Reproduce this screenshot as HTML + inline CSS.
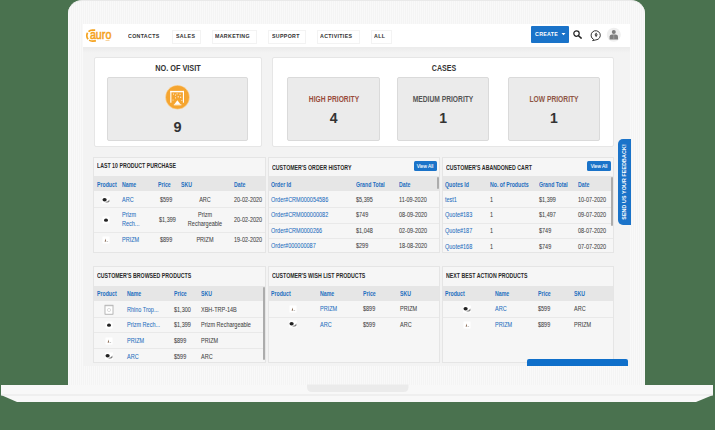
<!DOCTYPE html><html><head><meta charset="utf-8"><style>
html,body{margin:0;padding:0;}
body{width:715px;height:430px;position:relative;overflow:hidden;background:#4a724f;font-family:"Liberation Sans",sans-serif;}
.b{position:absolute;box-sizing:border-box;}
.t{position:absolute;white-space:nowrap;}
</style></head><body>
<div class="b" style="left:68px;top:0px;width:577px;height:385px;background:#f7f7f7;border-radius:14px 14px 0 0;border-top:1px solid #e9e9e9;background-image:repeating-linear-gradient(90deg,#f9f9f9 0 1px,#f4f4f4 1px 2px);"></div>
<div class="b" style="left:83px;top:24px;width:547px;height:342px;background:#f3f3f3;"></div>
<div class="b" style="left:83px;top:24px;width:547px;height:23px;background:#fff;"></div>
<div class="b" style="left:83px;top:47px;width:547px;height:6px;background:linear-gradient(#ebebeb,#f3f3f3);"></div>
<svg class="b" style="left:0;top:384px" width="715" height="20" viewBox="0 0 715 20"><path d="M1 1 H713 V11 L696 18 H17 L1 11 Z" fill="#f8f8f8"/><rect x="1" y="10.5" width="712" height="1" fill="#e6e6e6"/><path d="M307 0.5 H408.5 V3 Q408.5 8 403.5 8 H312 Q307 8 307 3 Z" fill="#ebebeb"/></svg>
<svg class="b" style="left:82px;top:24px" width="36" height="22" viewBox="0 0 36 22"><path d="M13.2 6.1 L10.3 6.15 A5.5 5.5 0 0 0 10.3 17.15 L13.9 16.9" fill="none" stroke="#f5a31f" stroke-width="1.7" stroke-dasharray="7 1.3 6.8 1.3 20"/><text x="7.9" y="15.1" font-family="Liberation Sans" font-size="13.5" fill="#f5a31f" stroke="#f5a31f" stroke-width="0.6" textLength="21.5" lengthAdjust="spacingAndGlyphs">auro</text><rect x="23.5" y="16.3" width="4" height="0.6" fill="#f5b860"/></svg>
<div class="t" style="left:128.2px;top:32.4px;font-size:6.2px;line-height:8px;color:#333;font-weight:bold;transform:scaleX(0.85);transform-origin:left center;letter-spacing:0.4px;">CONTACTS</div>
<div class="b" style="left:171.9px;top:29.5px;width:29.400000000000006px;height:14px;border:1px solid #f3f3f3;"></div>
<div class="t" style="left:175.8px;top:32.4px;font-size:6.2px;line-height:8px;color:#333;font-weight:bold;transform:scaleX(0.85);transform-origin:left center;letter-spacing:0.4px;">SALES</div>
<div class="b" style="left:212px;top:29.5px;width:45px;height:14px;border:1px solid #f3f3f3;"></div>
<div class="t" style="left:215.4px;top:32.4px;font-size:6.2px;line-height:8px;color:#333;font-weight:bold;transform:scaleX(0.85);transform-origin:left center;letter-spacing:0.4px;">MARKETING</div>
<div class="b" style="left:267.7px;top:29.5px;width:38.60000000000002px;height:14px;border:1px solid #f3f3f3;"></div>
<div class="t" style="left:271.6px;top:32.4px;font-size:6.2px;line-height:8px;color:#333;font-weight:bold;transform:scaleX(0.85);transform-origin:left center;letter-spacing:0.4px;">SUPPORT</div>
<div class="b" style="left:317.3px;top:29.5px;width:42.89999999999998px;height:14px;border:1px solid #f3f3f3;"></div>
<div class="t" style="left:320.2px;top:32.4px;font-size:6.2px;line-height:8px;color:#333;font-weight:bold;transform:scaleX(0.85);transform-origin:left center;letter-spacing:0.4px;">ACTIVITIES</div>
<div class="b" style="left:370.5px;top:29.5px;width:21.5px;height:14px;border:1px solid #f3f3f3;"></div>
<div class="t" style="left:374.0px;top:32.4px;font-size:6.2px;line-height:8px;color:#333;font-weight:bold;transform:scaleX(0.85);transform-origin:left center;letter-spacing:0.4px;">ALL</div>
<div class="b" style="left:531px;top:25.5px;width:38px;height:17px;background:#1a73c9;border-radius:1px;"></div>
<div class="t" style="left:535.0px;top:30.0px;font-size:5.3px;line-height:8px;color:#fff;font-weight:bold;transform-origin:left center;letter-spacing:0.3px;">CREATE</div>
<svg class="b" style="left:561px;top:32px" width="5" height="4"><path d="M0.5 1 H4.5 L2.5 3.2 Z" fill="#fff"/></svg>
<svg class="b" style="left:571px;top:28px" width="12" height="12" viewBox="0 0 12 12"><circle cx="5.5" cy="5.6" r="2.7" fill="none" stroke="#222" stroke-width="1.2"/><path d="M7.5 7.7 L10.2 10.1" stroke="#222" stroke-width="1.5" stroke-linecap="round"/></svg>
<svg class="b" style="left:589px;top:27.5px" width="14" height="14" viewBox="0 0 14 14"><path d="M4.6 11.4 A4.6 4.6 0 1 1 6.9 11.9 L3.6 12.6 Z" fill="none" stroke="#2a2a2a" stroke-width="0.95" stroke-linejoin="round"/><path d="M7.1 4.6 L8.6 6.8 L7.1 9.2 L5.6 6.8 Z" fill="#333"/><circle cx="7.1" cy="6.7" r="0.5" fill="#fff"/></svg>
<svg class="b" style="left:606px;top:27px" width="16" height="16" viewBox="0 0 16 16"><circle cx="7.8" cy="7.8" r="7" fill="#efefef"/><circle cx="7.8" cy="4.9" r="2" fill="#7d7d7d"/><path d="M3.6 12.4 V9.6 Q3.6 7.6 6 7.6 H9.6 Q12 7.6 12 9.6 V12.4 Z" fill="#7d7d7d"/><path d="M7.8 7.8 V12.2" stroke="#bdbdbd" stroke-width="0.5"/></svg>
<div class="b" style="left:94px;top:57px;width:167.5px;height:90px;background:#fff;border:1px solid #e6e6e6;border-radius:2px;"></div>
<div class="t" style="left:77.6px;width:200px;text-align:center;top:63.4px;font-size:8.6px;line-height:10px;color:#333;font-weight:bold;transform:scaleX(0.85);transform-origin:center;">NO. OF VISIT</div>
<div class="b" style="left:107px;top:76.5px;width:141px;height:64.5px;background:#ebebeb;border:1px solid #dadada;border-radius:2px;"></div>
<svg class="b" style="left:164px;top:83.5px" width="27" height="27" viewBox="0 0 27 27"><circle cx="13.5" cy="13.2" r="12" fill="#f5a530" stroke="#fbe3c0" stroke-width="0.5"/><rect x="6.3" y="6.9" width="13.7" height="1.4" fill="#fff"/><rect x="6.3" y="6.9" width="1.1" height="11.8" fill="#fff"/><rect x="18.9" y="6.9" width="1.1" height="11.8" fill="#fff"/><path d="M13.4 16.3 L16.6 20.6 H10.2 Z" fill="#fff"/><rect x="9.8" y="20.4" width="7.6" height="0.9" fill="#fff"/><g fill="#fff" opacity="0.85"><rect x="9" y="9.6" width="1" height="1"/><rect x="11" y="10.6" width="1" height="1"/><rect x="12.6" y="9.4" width="1" height="1"/><rect x="15.5" y="9.8" width="1.1" height="1"/><rect x="13.6" y="12.2" width="1.2" height="1.2"/><rect x="16.2" y="12.6" width="1" height="1.4"/><rect x="11" y="13.4" width="1" height="1"/><rect x="8.6" y="15.6" width="0.9" height="0.9"/><rect x="17.4" y="16" width="0.9" height="0.9"/></g></svg>
<div class="t" style="left:77.5px;width:200px;text-align:center;top:118.7px;font-size:14.5px;line-height:16px;color:#333;font-weight:bold;transform-origin:center;">9</div>
<div class="b" style="left:272px;top:57px;width:342px;height:90px;background:#fff;border:1px solid #e6e6e6;border-radius:2px;"></div>
<div class="t" style="left:343.8px;width:200px;text-align:center;top:63.4px;font-size:8.6px;line-height:10px;color:#333;font-weight:bold;transform:scaleX(0.82);transform-origin:center;">CASES</div>
<div class="b" style="left:287px;top:76.5px;width:93.30000000000001px;height:64.5px;background:#ebebeb;border:1px solid #dadada;border-radius:2px;"></div>
<div class="t" style="left:233.6px;width:200px;text-align:center;top:94.2px;font-size:8.4px;line-height:10px;color:#9a4b3b;font-weight:bold;transform:scaleX(0.8);transform-origin:center;">HIGH PRIORITY</div>
<div class="t" style="left:233.6px;width:200px;text-align:center;top:110.3px;font-size:14px;line-height:16px;color:#333;font-weight:bold;transform-origin:center;">4</div>
<div class="b" style="left:397px;top:76.5px;width:92.30000000000001px;height:64.5px;background:#ebebeb;border:1px solid #dadada;border-radius:2px;"></div>
<div class="t" style="left:343.1px;width:200px;text-align:center;top:94.2px;font-size:8.4px;line-height:10px;color:#555;font-weight:bold;transform:scaleX(0.8);transform-origin:center;">MEDIUM PRIORITY</div>
<div class="t" style="left:343.1px;width:200px;text-align:center;top:110.3px;font-size:14px;line-height:16px;color:#333;font-weight:bold;transform-origin:center;">1</div>
<div class="b" style="left:507.5px;top:76.5px;width:92.5px;height:64.5px;background:#ebebeb;border:1px solid #dadada;border-radius:2px;"></div>
<div class="t" style="left:453.8px;width:200px;text-align:center;top:94.2px;font-size:8.4px;line-height:10px;color:#8f5645;font-weight:bold;transform:scaleX(0.8);transform-origin:center;">LOW PRIORITY</div>
<div class="t" style="left:453.8px;width:200px;text-align:center;top:110.3px;font-size:14px;line-height:16px;color:#333;font-weight:bold;transform-origin:center;">1</div>
<div class="b" style="left:618px;top:139px;width:12.5px;height:86px;background:#1a73c9;border-radius:5px 0 0 5px;"></div>
<div class="t" style="left:624.3px;top:182px;transform:translate(-50%,-50%) rotate(-90deg);font-size:5.3px;line-height:7px;color:#fff;font-weight:bold;letter-spacing:0.12px;">SEND US YOUR FEEDBACK!</div>
<div class="b" style="left:93px;top:157px;width:173px;height:96px;background:#f6f6f6;border:1px solid #e5e5e5;"></div>
<div class="t" style="left:97.0px;top:162.3px;font-size:6.8px;line-height:8px;color:#2a2a2a;font-weight:bold;transform:scaleX(0.77);transform-origin:left center;">LAST 10 PRODUCT PURCHASE</div>
<div class="b" style="left:94px;top:175.5px;width:171px;height:15.699999999999989px;background:#e6e6e6;"></div>
<div class="t" style="left:97.0px;top:181.2px;font-size:6.5px;line-height:8px;color:#1f6fc0;font-weight:bold;transform:scaleX(0.8);transform-origin:left center;">Product</div>
<div class="t" style="left:122.2px;top:181.2px;font-size:6.5px;line-height:8px;color:#1f6fc0;font-weight:bold;transform:scaleX(0.8);transform-origin:left center;">Name</div>
<div class="t" style="left:158.0px;top:181.2px;font-size:6.5px;line-height:8px;color:#1f6fc0;font-weight:bold;transform:scaleX(0.8);transform-origin:left center;">Price</div>
<div class="t" style="left:180.7px;top:181.2px;font-size:6.5px;line-height:8px;color:#1f6fc0;font-weight:bold;transform:scaleX(0.8);transform-origin:left center;">SKU</div>
<div class="t" style="left:234.3px;top:181.2px;font-size:6.5px;line-height:8px;color:#1f6fc0;font-weight:bold;transform:scaleX(0.8);transform-origin:left center;">Date</div>
<div class="b" style="left:94px;top:206.5px;width:171px;height:1px;background:#e9e9e9;"></div>
<div class="b" style="left:94px;top:231.5px;width:171px;height:1px;background:#e9e9e9;"></div>
<svg class="b" style="left:101px;top:195.5px" width="10" height="8" viewBox="0 0 10 8"><rect x="1" y="0.5" width="8" height="7" fill="#fff"/><ellipse cx="3.6" cy="3.8" rx="2.1" ry="1.7" fill="#222"/><path d="M4.6 5.8 Q7 6.2 8.3 3.6 L8.5 5.4 Q7 6.9 4.6 6.5 Z" fill="#777"/></svg>
<div class="t" style="left:122.2px;top:195.8px;font-size:6.8px;line-height:8px;color:#1f6fc0;font-weight:normal;-webkit-text-stroke:0.06px #1f6fc0;transform:scaleX(0.81);transform-origin:left center;">ARC</div>
<div class="t" style="left:160.2px;top:195.8px;font-size:6.8px;line-height:8px;color:#444;font-weight:normal;-webkit-text-stroke:0.06px #444;transform:scaleX(0.81);transform-origin:left center;">$599</div>
<div class="t" style="left:104.6px;width:200px;text-align:center;top:195.8px;font-size:6.8px;line-height:8px;color:#444;font-weight:normal;-webkit-text-stroke:0.06px #444;transform:scaleX(0.81);transform-origin:center;">ARC</div>
<div class="t" style="left:234.3px;top:195.8px;font-size:6.8px;line-height:8px;color:#444;font-weight:normal;-webkit-text-stroke:0.06px #444;transform:scaleX(0.81);transform-origin:left center;">20-02-2020</div>
<svg class="b" style="left:102.4px;top:216px" width="8" height="8"><rect x="0.5" y="0.5" width="7" height="7" fill="#fff"/><ellipse cx="4" cy="4.2" rx="2" ry="1.6" fill="#222"/></svg>
<div class="t" style="left:122.2px;top:211.3px;font-size:6.8px;line-height:8px;color:#1f6fc0;font-weight:normal;-webkit-text-stroke:0.06px #1f6fc0;transform:scaleX(0.81);transform-origin:left center;">Prizm</div>
<div class="t" style="left:122.2px;top:220.1px;font-size:6.8px;line-height:8px;color:#1f6fc0;font-weight:normal;-webkit-text-stroke:0.06px #1f6fc0;transform:scaleX(0.81);transform-origin:left center;">Rech...</div>
<div class="t" style="left:158.5px;top:215.6px;font-size:6.8px;line-height:8px;color:#444;font-weight:normal;-webkit-text-stroke:0.06px #444;transform:scaleX(0.81);transform-origin:left center;">$1,399</div>
<div class="t" style="left:104.6px;width:200px;text-align:center;top:211.3px;font-size:6.8px;line-height:8px;color:#444;font-weight:normal;-webkit-text-stroke:0.06px #444;transform:scaleX(0.81);transform-origin:center;">Prizm</div>
<div class="t" style="left:104.6px;width:200px;text-align:center;top:220.1px;font-size:6.8px;line-height:8px;color:#444;font-weight:normal;-webkit-text-stroke:0.06px #444;transform:scaleX(0.81);transform-origin:center;">Rechargeable</div>
<div class="t" style="left:234.3px;top:215.6px;font-size:6.8px;line-height:8px;color:#444;font-weight:normal;-webkit-text-stroke:0.06px #444;transform:scaleX(0.81);transform-origin:left center;">20-02-2020</div>
<svg class="b" style="left:102px;top:235.5px" width="8" height="8"><rect x="0.5" y="0.5" width="7" height="7" fill="#fff"/><path d="M3.6 2.4 L4.2 5.6 L2.6 5.8 Z" fill="#8a6b55"/><rect x="4.6" y="5.1" width="1.5" height="0.8" fill="#bbb"/></svg>
<div class="t" style="left:122.2px;top:235.6px;font-size:6.8px;line-height:8px;color:#1f6fc0;font-weight:normal;-webkit-text-stroke:0.06px #1f6fc0;transform:scaleX(0.81);transform-origin:left center;">PRIZM</div>
<div class="t" style="left:160.2px;top:235.6px;font-size:6.8px;line-height:8px;color:#444;font-weight:normal;-webkit-text-stroke:0.06px #444;transform:scaleX(0.81);transform-origin:left center;">$899</div>
<div class="t" style="left:104.6px;width:200px;text-align:center;top:235.6px;font-size:6.8px;line-height:8px;color:#444;font-weight:normal;-webkit-text-stroke:0.06px #444;transform:scaleX(0.81);transform-origin:center;">PRIZM</div>
<div class="t" style="left:234.3px;top:235.6px;font-size:6.8px;line-height:8px;color:#444;font-weight:normal;-webkit-text-stroke:0.06px #444;transform:scaleX(0.81);transform-origin:left center;">19-02-2020</div>
<div class="b" style="left:268px;top:157px;width:172px;height:96px;background:#f6f6f6;border:1px solid #e5e5e5;"></div>
<div class="t" style="left:272.0px;top:163.6px;font-size:6.8px;line-height:8px;color:#2a2a2a;font-weight:bold;transform:scaleX(0.77);transform-origin:left center;">CUSTOMER'S ORDER HISTORY</div>
<div class="b" style="left:269px;top:175.5px;width:170px;height:15.699999999999989px;background:#e6e6e6;"></div>
<div class="t" style="left:271.3px;top:181.2px;font-size:6.5px;line-height:8px;color:#1f6fc0;font-weight:bold;transform:scaleX(0.8);transform-origin:left center;">Order Id</div>
<div class="t" style="left:355.5px;top:181.2px;font-size:6.5px;line-height:8px;color:#1f6fc0;font-weight:bold;transform:scaleX(0.8);transform-origin:left center;">Grand Total</div>
<div class="t" style="left:399.4px;top:181.2px;font-size:6.5px;line-height:8px;color:#1f6fc0;font-weight:bold;transform:scaleX(0.8);transform-origin:left center;">Date</div>
<div class="b" style="left:269px;top:207px;width:170px;height:1px;background:#e9e9e9;"></div>
<div class="b" style="left:269px;top:222.5px;width:170px;height:1px;background:#e9e9e9;"></div>
<div class="b" style="left:269px;top:238px;width:170px;height:1px;background:#e9e9e9;"></div>
<div class="t" style="left:271.3px;top:196.0px;font-size:6.8px;line-height:8px;color:#1f6fc0;font-weight:normal;-webkit-text-stroke:0.06px #1f6fc0;transform:scaleX(0.81);transform-origin:left center;">Order#CRM000054586</div>
<div class="t" style="left:355.5px;top:196.0px;font-size:6.8px;line-height:8px;color:#444;font-weight:normal;-webkit-text-stroke:0.06px #444;transform:scaleX(0.81);transform-origin:left center;">$5,395</div>
<div class="t" style="left:399.4px;top:196.0px;font-size:6.8px;line-height:8px;color:#444;font-weight:normal;-webkit-text-stroke:0.06px #444;transform:scaleX(0.81);transform-origin:left center;">11-09-2020</div>
<div class="t" style="left:271.3px;top:211.4px;font-size:6.8px;line-height:8px;color:#1f6fc0;font-weight:normal;-webkit-text-stroke:0.06px #1f6fc0;transform:scaleX(0.81);transform-origin:left center;">Order#CRM000000082</div>
<div class="t" style="left:355.5px;top:211.4px;font-size:6.8px;line-height:8px;color:#444;font-weight:normal;-webkit-text-stroke:0.06px #444;transform:scaleX(0.81);transform-origin:left center;">$749</div>
<div class="t" style="left:399.4px;top:211.4px;font-size:6.8px;line-height:8px;color:#444;font-weight:normal;-webkit-text-stroke:0.06px #444;transform:scaleX(0.81);transform-origin:left center;">08-09-2020</div>
<div class="t" style="left:271.3px;top:226.9px;font-size:6.8px;line-height:8px;color:#1f6fc0;font-weight:normal;-webkit-text-stroke:0.06px #1f6fc0;transform:scaleX(0.81);transform-origin:left center;">Order#CRM0000266</div>
<div class="t" style="left:355.5px;top:226.9px;font-size:6.8px;line-height:8px;color:#444;font-weight:normal;-webkit-text-stroke:0.06px #444;transform:scaleX(0.81);transform-origin:left center;">$1,048</div>
<div class="t" style="left:399.4px;top:226.9px;font-size:6.8px;line-height:8px;color:#444;font-weight:normal;-webkit-text-stroke:0.06px #444;transform:scaleX(0.81);transform-origin:left center;">02-09-2020</div>
<div class="t" style="left:271.3px;top:242.3px;font-size:6.8px;line-height:8px;color:#1f6fc0;font-weight:normal;-webkit-text-stroke:0.06px #1f6fc0;transform:scaleX(0.81);transform-origin:left center;">Order#000000087</div>
<div class="t" style="left:355.5px;top:242.3px;font-size:6.8px;line-height:8px;color:#444;font-weight:normal;-webkit-text-stroke:0.06px #444;transform:scaleX(0.81);transform-origin:left center;">$299</div>
<div class="t" style="left:399.4px;top:242.3px;font-size:6.8px;line-height:8px;color:#444;font-weight:normal;-webkit-text-stroke:0.06px #444;transform:scaleX(0.81);transform-origin:left center;">18-08-2020</div>
<div class="b" style="left:413.5px;top:161.2px;width:23.100000000000023px;height:10.100000000000023px;background:#1a73c9;border-radius:1.5px;"></div>
<div class="t" style="left:325.1px;width:200px;text-align:center;top:162.4px;font-size:5.6px;line-height:8px;color:#fff;font-weight:normal;-webkit-text-stroke:0.1px #fff;transform:scaleX(0.85);transform-origin:center;">View All</div>
<div class="b" style="left:437px;top:177px;width:2px;height:12px;background:#acacac;border-radius:1px;"></div>
<div class="b" style="left:442px;top:157px;width:172px;height:96px;background:#f6f6f6;border:1px solid #e5e5e5;"></div>
<div class="t" style="left:446.0px;top:163.6px;font-size:6.8px;line-height:8px;color:#2a2a2a;font-weight:bold;transform:scaleX(0.77);transform-origin:left center;">CUSTOMER'S ABANDONED CART</div>
<div class="b" style="left:443px;top:175.5px;width:170px;height:15.699999999999989px;background:#e6e6e6;"></div>
<div class="t" style="left:445.3px;top:181.2px;font-size:6.5px;line-height:8px;color:#1f6fc0;font-weight:bold;transform:scaleX(0.8);transform-origin:left center;">Quotes Id</div>
<div class="t" style="left:489.6px;top:181.2px;font-size:6.5px;line-height:8px;color:#1f6fc0;font-weight:bold;transform:scaleX(0.8);transform-origin:left center;">No. of Products</div>
<div class="t" style="left:538.7px;top:181.2px;font-size:6.5px;line-height:8px;color:#1f6fc0;font-weight:bold;transform:scaleX(0.8);transform-origin:left center;">Grand Total</div>
<div class="t" style="left:578.0px;top:181.2px;font-size:6.5px;line-height:8px;color:#1f6fc0;font-weight:bold;transform:scaleX(0.8);transform-origin:left center;">Date</div>
<div class="b" style="left:443px;top:207px;width:170px;height:1px;background:#e9e9e9;"></div>
<div class="b" style="left:443px;top:222.5px;width:170px;height:1px;background:#e9e9e9;"></div>
<div class="b" style="left:443px;top:238px;width:170px;height:1px;background:#e9e9e9;"></div>
<div class="t" style="left:445.3px;top:195.9px;font-size:6.8px;line-height:8px;color:#1f6fc0;font-weight:normal;-webkit-text-stroke:0.06px #1f6fc0;transform:scaleX(0.81);transform-origin:left center;">test1</div>
<div class="t" style="left:489.6px;top:195.9px;font-size:6.8px;line-height:8px;color:#444;font-weight:normal;-webkit-text-stroke:0.06px #444;transform:scaleX(0.81);transform-origin:left center;">1</div>
<div class="t" style="left:538.7px;top:195.9px;font-size:6.8px;line-height:8px;color:#444;font-weight:normal;-webkit-text-stroke:0.06px #444;transform:scaleX(0.81);transform-origin:left center;">$1,399</div>
<div class="t" style="left:578.0px;top:195.9px;font-size:6.8px;line-height:8px;color:#444;font-weight:normal;-webkit-text-stroke:0.06px #444;transform:scaleX(0.81);transform-origin:left center;">10-07-2020</div>
<div class="t" style="left:445.3px;top:211.2px;font-size:6.8px;line-height:8px;color:#1f6fc0;font-weight:normal;-webkit-text-stroke:0.06px #1f6fc0;transform:scaleX(0.81);transform-origin:left center;">Quote#183</div>
<div class="t" style="left:489.6px;top:211.2px;font-size:6.8px;line-height:8px;color:#444;font-weight:normal;-webkit-text-stroke:0.06px #444;transform:scaleX(0.81);transform-origin:left center;">1</div>
<div class="t" style="left:538.7px;top:211.2px;font-size:6.8px;line-height:8px;color:#444;font-weight:normal;-webkit-text-stroke:0.06px #444;transform:scaleX(0.81);transform-origin:left center;">$1,497</div>
<div class="t" style="left:578.0px;top:211.2px;font-size:6.8px;line-height:8px;color:#444;font-weight:normal;-webkit-text-stroke:0.06px #444;transform:scaleX(0.81);transform-origin:left center;">09-07-2020</div>
<div class="t" style="left:445.3px;top:226.8px;font-size:6.8px;line-height:8px;color:#1f6fc0;font-weight:normal;-webkit-text-stroke:0.06px #1f6fc0;transform:scaleX(0.81);transform-origin:left center;">Quote#187</div>
<div class="t" style="left:489.6px;top:226.8px;font-size:6.8px;line-height:8px;color:#444;font-weight:normal;-webkit-text-stroke:0.06px #444;transform:scaleX(0.81);transform-origin:left center;">1</div>
<div class="t" style="left:538.7px;top:226.8px;font-size:6.8px;line-height:8px;color:#444;font-weight:normal;-webkit-text-stroke:0.06px #444;transform:scaleX(0.81);transform-origin:left center;">$749</div>
<div class="t" style="left:578.0px;top:226.8px;font-size:6.8px;line-height:8px;color:#444;font-weight:normal;-webkit-text-stroke:0.06px #444;transform:scaleX(0.81);transform-origin:left center;">08-07-2020</div>
<div class="t" style="left:445.3px;top:242.6px;font-size:6.8px;line-height:8px;color:#1f6fc0;font-weight:normal;-webkit-text-stroke:0.06px #1f6fc0;transform:scaleX(0.81);transform-origin:left center;">Quote#168</div>
<div class="t" style="left:489.6px;top:242.6px;font-size:6.8px;line-height:8px;color:#444;font-weight:normal;-webkit-text-stroke:0.06px #444;transform:scaleX(0.81);transform-origin:left center;">1</div>
<div class="t" style="left:538.7px;top:242.6px;font-size:6.8px;line-height:8px;color:#444;font-weight:normal;-webkit-text-stroke:0.06px #444;transform:scaleX(0.81);transform-origin:left center;">$749</div>
<div class="t" style="left:578.0px;top:242.6px;font-size:6.8px;line-height:8px;color:#444;font-weight:normal;-webkit-text-stroke:0.06px #444;transform:scaleX(0.81);transform-origin:left center;">07-07-2020</div>
<div class="b" style="left:587.1px;top:160.9px;width:23.5px;height:10.199999999999989px;background:#1a73c9;border-radius:1.5px;"></div>
<div class="t" style="left:498.9px;width:200px;text-align:center;top:162.2px;font-size:5.6px;line-height:8px;color:#fff;font-weight:normal;-webkit-text-stroke:0.1px #fff;transform:scaleX(0.85);transform-origin:center;">View All</div>
<div class="b" style="left:611px;top:177px;width:2px;height:49px;background:#acacac;border-radius:1px;"></div>
<div class="b" style="left:93px;top:266px;width:173px;height:96.5px;background:#f6f6f6;border:1px solid #e5e5e5;"></div>
<div class="t" style="left:97.0px;top:271.6px;font-size:6.8px;line-height:8px;color:#2a2a2a;font-weight:bold;transform:scaleX(0.77);transform-origin:left center;">CUSTOMER'S BROWSED PRODUCTS</div>
<div class="b" style="left:94px;top:285.5px;width:171px;height:15.0px;background:#e6e6e6;"></div>
<div class="t" style="left:97.0px;top:290.1px;font-size:6.5px;line-height:8px;color:#1f6fc0;font-weight:bold;transform:scaleX(0.8);transform-origin:left center;">Product</div>
<div class="t" style="left:127.4px;top:290.1px;font-size:6.5px;line-height:8px;color:#1f6fc0;font-weight:bold;transform:scaleX(0.8);transform-origin:left center;">Name</div>
<div class="t" style="left:173.7px;top:290.1px;font-size:6.5px;line-height:8px;color:#1f6fc0;font-weight:bold;transform:scaleX(0.8);transform-origin:left center;">Price</div>
<div class="t" style="left:200.8px;top:290.1px;font-size:6.5px;line-height:8px;color:#1f6fc0;font-weight:bold;transform:scaleX(0.8);transform-origin:left center;">SKU</div>
<div class="b" style="left:94px;top:316.5px;width:171px;height:1px;background:#e9e9e9;"></div>
<div class="b" style="left:94px;top:332.2px;width:171px;height:1px;background:#e9e9e9;"></div>
<div class="b" style="left:94px;top:347.8px;width:171px;height:1px;background:#e9e9e9;"></div>
<svg class="b" style="left:104px;top:303.5px" width="10" height="11"><rect x="1" y="1.2" width="8" height="9" fill="#fff" stroke="#9a9a9a" stroke-width="0.7"/><rect x="1" y="1.2" width="8" height="1" fill="#bbb"/><circle cx="5" cy="6" r="1.6" fill="none" stroke="#bbb" stroke-width="0.5"/></svg>
<div class="t" style="left:127.4px;top:305.5px;font-size:6.8px;line-height:8px;color:#1f6fc0;font-weight:normal;-webkit-text-stroke:0.06px #1f6fc0;transform:scaleX(0.81);transform-origin:left center;">Rhino Trop...</div>
<div class="t" style="left:173.7px;top:305.5px;font-size:6.8px;line-height:8px;color:#444;font-weight:normal;-webkit-text-stroke:0.06px #444;transform:scaleX(0.81);transform-origin:left center;">$1,300</div>
<div class="t" style="left:200.8px;top:305.5px;font-size:6.8px;line-height:8px;color:#444;font-weight:normal;-webkit-text-stroke:0.06px #444;transform:scaleX(0.81);transform-origin:left center;">XBH-TRP-14B</div>
<svg class="b" style="left:105px;top:321px" width="8" height="8"><rect x="0.5" y="0.5" width="7" height="7" fill="#fff"/><ellipse cx="4" cy="4.2" rx="2" ry="1.6" fill="#222"/></svg>
<div class="t" style="left:127.4px;top:321.4px;font-size:6.8px;line-height:8px;color:#1f6fc0;font-weight:normal;-webkit-text-stroke:0.06px #1f6fc0;transform:scaleX(0.81);transform-origin:left center;">Prizm Rech...</div>
<div class="t" style="left:173.7px;top:321.4px;font-size:6.8px;line-height:8px;color:#444;font-weight:normal;-webkit-text-stroke:0.06px #444;transform:scaleX(0.81);transform-origin:left center;">$1,399</div>
<div class="t" style="left:200.8px;top:321.4px;font-size:6.8px;line-height:8px;color:#444;font-weight:normal;-webkit-text-stroke:0.06px #444;transform:scaleX(0.81);transform-origin:left center;">Prizm Rechargeable</div>
<svg class="b" style="left:105px;top:337px" width="8" height="8"><rect x="0.5" y="0.5" width="7" height="7" fill="#fff"/><path d="M3.6 2.4 L4.2 5.6 L2.6 5.8 Z" fill="#8a6b55"/><rect x="4.6" y="5.1" width="1.5" height="0.8" fill="#bbb"/></svg>
<div class="t" style="left:127.4px;top:337.3px;font-size:6.8px;line-height:8px;color:#1f6fc0;font-weight:normal;-webkit-text-stroke:0.06px #1f6fc0;transform:scaleX(0.81);transform-origin:left center;">PRIZM</div>
<div class="t" style="left:173.7px;top:337.3px;font-size:6.8px;line-height:8px;color:#444;font-weight:normal;-webkit-text-stroke:0.06px #444;transform:scaleX(0.81);transform-origin:left center;">$899</div>
<div class="t" style="left:200.8px;top:337.3px;font-size:6.8px;line-height:8px;color:#444;font-weight:normal;-webkit-text-stroke:0.06px #444;transform:scaleX(0.81);transform-origin:left center;">PRIZM</div>
<svg class="b" style="left:104px;top:352px" width="10" height="8" viewBox="0 0 10 8"><rect x="1" y="0.5" width="8" height="7" fill="#fff"/><ellipse cx="3.6" cy="3.8" rx="2.1" ry="1.7" fill="#222"/><path d="M4.6 5.8 Q7 6.2 8.3 3.6 L8.5 5.4 Q7 6.9 4.6 6.5 Z" fill="#777"/></svg>
<div class="t" style="left:127.4px;top:352.6px;font-size:6.8px;line-height:8px;color:#1f6fc0;font-weight:normal;-webkit-text-stroke:0.06px #1f6fc0;transform:scaleX(0.81);transform-origin:left center;">ARC</div>
<div class="t" style="left:173.7px;top:352.6px;font-size:6.8px;line-height:8px;color:#444;font-weight:normal;-webkit-text-stroke:0.06px #444;transform:scaleX(0.81);transform-origin:left center;">$599</div>
<div class="t" style="left:200.8px;top:352.6px;font-size:6.8px;line-height:8px;color:#444;font-weight:normal;-webkit-text-stroke:0.06px #444;transform:scaleX(0.81);transform-origin:left center;">ARC</div>
<div class="b" style="left:262.8px;top:287px;width:2px;height:73px;background:#acacac;border-radius:1px;"></div>
<div class="b" style="left:267.5px;top:266px;width:172.5px;height:96.5px;background:#f6f6f6;border:1px solid #e5e5e5;"></div>
<div class="t" style="left:271.5px;top:271.6px;font-size:6.8px;line-height:8px;color:#2a2a2a;font-weight:bold;transform:scaleX(0.77);transform-origin:left center;">CUSTOMER'S WISH LIST PRODUCTS</div>
<div class="b" style="left:268.5px;top:285.5px;width:170.5px;height:15.0px;background:#e6e6e6;"></div>
<div class="t" style="left:271.2px;top:290.1px;font-size:6.5px;line-height:8px;color:#1f6fc0;font-weight:bold;transform:scaleX(0.8);transform-origin:left center;">Product</div>
<div class="t" style="left:320.0px;top:290.1px;font-size:6.5px;line-height:8px;color:#1f6fc0;font-weight:bold;transform:scaleX(0.8);transform-origin:left center;">Name</div>
<div class="t" style="left:363.3px;top:290.1px;font-size:6.5px;line-height:8px;color:#1f6fc0;font-weight:bold;transform:scaleX(0.8);transform-origin:left center;">Price</div>
<div class="t" style="left:399.6px;top:290.1px;font-size:6.5px;line-height:8px;color:#1f6fc0;font-weight:bold;transform:scaleX(0.8);transform-origin:left center;">SKU</div>
<div class="b" style="left:268.5px;top:316.5px;width:170.5px;height:1px;background:#e9e9e9;"></div>
<svg class="b" style="left:288.7px;top:304.6px" width="8" height="8"><rect x="0.5" y="0.5" width="7" height="7" fill="#fff"/><path d="M3.6 2.4 L4.2 5.6 L2.6 5.8 Z" fill="#8a6b55"/><rect x="4.6" y="5.1" width="1.5" height="0.8" fill="#bbb"/></svg>
<div class="t" style="left:320.0px;top:305.2px;font-size:6.8px;line-height:8px;color:#1f6fc0;font-weight:normal;-webkit-text-stroke:0.06px #1f6fc0;transform:scaleX(0.81);transform-origin:left center;">PRIZM</div>
<div class="t" style="left:363.3px;top:305.2px;font-size:6.8px;line-height:8px;color:#444;font-weight:normal;-webkit-text-stroke:0.06px #444;transform:scaleX(0.81);transform-origin:left center;">$899</div>
<div class="t" style="left:399.6px;top:305.2px;font-size:6.8px;line-height:8px;color:#444;font-weight:normal;-webkit-text-stroke:0.06px #444;transform:scaleX(0.81);transform-origin:left center;">PRIZM</div>
<svg class="b" style="left:287.7px;top:320.2px" width="10" height="8" viewBox="0 0 10 8"><rect x="1" y="0.5" width="8" height="7" fill="#fff"/><ellipse cx="3.6" cy="3.8" rx="2.1" ry="1.7" fill="#222"/><path d="M4.6 5.8 Q7 6.2 8.3 3.6 L8.5 5.4 Q7 6.9 4.6 6.5 Z" fill="#777"/></svg>
<div class="t" style="left:320.0px;top:320.8px;font-size:6.8px;line-height:8px;color:#1f6fc0;font-weight:normal;-webkit-text-stroke:0.06px #1f6fc0;transform:scaleX(0.81);transform-origin:left center;">ARC</div>
<div class="t" style="left:363.3px;top:320.8px;font-size:6.8px;line-height:8px;color:#444;font-weight:normal;-webkit-text-stroke:0.06px #444;transform:scaleX(0.81);transform-origin:left center;">$599</div>
<div class="t" style="left:399.6px;top:320.8px;font-size:6.8px;line-height:8px;color:#444;font-weight:normal;-webkit-text-stroke:0.06px #444;transform:scaleX(0.81);transform-origin:left center;">ARC</div>
<div class="b" style="left:442px;top:266px;width:172px;height:96.5px;background:#f6f6f6;border:1px solid #e5e5e5;"></div>
<div class="t" style="left:446.0px;top:271.6px;font-size:6.8px;line-height:8px;color:#2a2a2a;font-weight:bold;transform:scaleX(0.77);transform-origin:left center;">NEXT BEST ACTION PRODUCTS</div>
<div class="b" style="left:443px;top:285.5px;width:170px;height:15.0px;background:#e6e6e6;"></div>
<div class="t" style="left:445.3px;top:290.1px;font-size:6.5px;line-height:8px;color:#1f6fc0;font-weight:bold;transform:scaleX(0.8);transform-origin:left center;">Product</div>
<div class="t" style="left:494.6px;top:290.1px;font-size:6.5px;line-height:8px;color:#1f6fc0;font-weight:bold;transform:scaleX(0.8);transform-origin:left center;">Name</div>
<div class="t" style="left:537.8px;top:290.1px;font-size:6.5px;line-height:8px;color:#1f6fc0;font-weight:bold;transform:scaleX(0.8);transform-origin:left center;">Price</div>
<div class="t" style="left:573.6px;top:290.1px;font-size:6.5px;line-height:8px;color:#1f6fc0;font-weight:bold;transform:scaleX(0.8);transform-origin:left center;">SKU</div>
<div class="b" style="left:443px;top:316.5px;width:170px;height:1px;background:#e9e9e9;"></div>
<svg class="b" style="left:461.7px;top:304.7px" width="10" height="8" viewBox="0 0 10 8"><rect x="1" y="0.5" width="8" height="7" fill="#fff"/><ellipse cx="3.6" cy="3.8" rx="2.1" ry="1.7" fill="#222"/><path d="M4.6 5.8 Q7 6.2 8.3 3.6 L8.5 5.4 Q7 6.9 4.6 6.5 Z" fill="#777"/></svg>
<div class="t" style="left:494.6px;top:305.3px;font-size:6.8px;line-height:8px;color:#1f6fc0;font-weight:normal;-webkit-text-stroke:0.06px #1f6fc0;transform:scaleX(0.81);transform-origin:left center;">ARC</div>
<div class="t" style="left:537.8px;top:305.3px;font-size:6.8px;line-height:8px;color:#444;font-weight:normal;-webkit-text-stroke:0.06px #444;transform:scaleX(0.81);transform-origin:left center;">$599</div>
<div class="t" style="left:573.6px;top:305.3px;font-size:6.8px;line-height:8px;color:#444;font-weight:normal;-webkit-text-stroke:0.06px #444;transform:scaleX(0.81);transform-origin:left center;">ARC</div>
<svg class="b" style="left:462.7px;top:320.6px" width="8" height="8"><rect x="0.5" y="0.5" width="7" height="7" fill="#fff"/><path d="M3.6 2.4 L4.2 5.6 L2.6 5.8 Z" fill="#8a6b55"/><rect x="4.6" y="5.1" width="1.5" height="0.8" fill="#bbb"/></svg>
<div class="t" style="left:494.6px;top:321.2px;font-size:6.8px;line-height:8px;color:#1f6fc0;font-weight:normal;-webkit-text-stroke:0.06px #1f6fc0;transform:scaleX(0.81);transform-origin:left center;">PRIZM</div>
<div class="t" style="left:537.8px;top:321.2px;font-size:6.8px;line-height:8px;color:#444;font-weight:normal;-webkit-text-stroke:0.06px #444;transform:scaleX(0.81);transform-origin:left center;">$899</div>
<div class="t" style="left:573.6px;top:321.2px;font-size:6.8px;line-height:8px;color:#444;font-weight:normal;-webkit-text-stroke:0.06px #444;transform:scaleX(0.81);transform-origin:left center;">PRIZM</div>
<div class="b" style="left:527.3px;top:359px;width:101px;height:7px;background:#0f6fca;border-radius:2px 2px 0 0;"></div>
</body></html>
